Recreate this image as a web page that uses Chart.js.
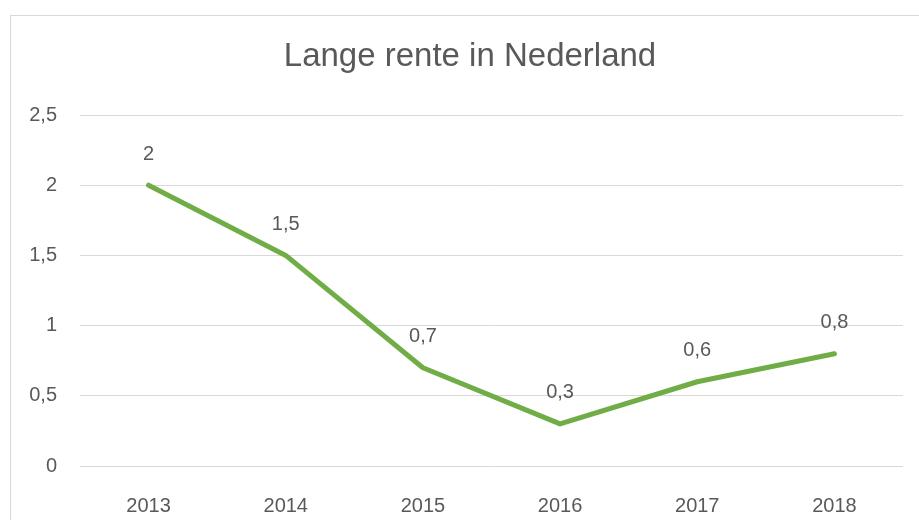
<!DOCTYPE html>
<html>
<head>
<meta charset="utf-8">
<script src="https://cdn.jsdelivr.net/npm/chart.js@4"></script>
<style>
  html, body { margin: 0; padding: 0; background: #fff; overflow: hidden; }
  #wrap { position: absolute; left: 0; top: 0; width: 919px; height: 520px; }
</style>
</head>
<body>
<div id="wrap"><canvas id="grafico"></canvas></div>
<script>
// Datos del gráfico
const titel = 'Lange rente in Nederland';
const jaren = ['2013', '2014', '2015', '2016', '2017', '2018'];
const rente = [2, 1.5, 0.7, 0.3, 0.6, 0.8];
const yTicks = [0, 0.5, 1, 1.5, 2, 2.5];

const grijs = '#595959';
const lijn = '#d9d9d9';
const fontFam = "'Liberation Sans', Arial, sans-serif";

// komma als decimaalteken
function nl(v) {
  return String(v).replace('.', ',');
}

// rand rond de grafiek (rechts en onder afgesneden) + titel
const randPlugin = {
  id: 'rand',
  beforeDraw(chart) {
    const c = chart.ctx;
    c.save();
    c.strokeStyle = lijn;
    c.lineWidth = 1;
    c.strokeRect(10.5, 15.5, 1000, 1000);
    // titel, iets rechts van het midden zoals in Excel
    c.fillStyle = grijs;
    c.font = '33px ' + fontFam;
    c.textAlign = 'center';
    c.textBaseline = 'middle';
    c.fillText(titel, 470, 57);
    c.restore();
  }
};

// waarden boven de punten
const labelPlugin = {
  id: 'labels',
  afterDatasetsDraw(chart) {
    const c = chart.ctx;
    const meta = chart.getDatasetMeta(0);
    c.save();
    c.fillStyle = grijs;
    c.font = '20px ' + fontFam;
    c.textAlign = 'center';
    c.textBaseline = 'middle';
    meta.data.forEach((pt, i) => {
      c.fillText(nl(rente[i]), pt.x, pt.y - 31);
    });
    c.restore();
  }
};

new Chart(document.getElementById('grafico').getContext('2d'), {
  type: 'line',
  data: {
    labels: jaren,
    datasets: [{
      data: rente,
      borderColor: '#70AD47',
      borderWidth: 5,
      pointRadius: 0,
      tension: 0,
      borderCapStyle: 'round',
      borderJoinStyle: 'round'
    }]
  },
  options: {
    responsive: true,
    maintainAspectRatio: false,
    animation: false,
    layout: { padding: { left: 0, right: 16, top: 115, bottom: 0 } },
    plugins: {
      legend: { display: false },
      tooltip: { enabled: false },
      title: { display: false }
    },
    scales: {
      x: {
        offset: true,
        grid: { display: false },
        border: { display: false },
        ticks: { color: grijs, font: { family: fontFam, size: 20 }, padding: 20, maxRotation: 0 },
        afterFit(s) { s.height = 54; }
      },
      y: {
        min: 0,
        max: 2.5,
        afterBuildTicks(s) { s.ticks = yTicks.map(v => ({ value: v })); },
        grid: { color: lijn, lineWidth: 1, drawTicks: false },
        border: { display: false },
        ticks: {
          color: grijs,
          font: { family: fontFam, size: 20 },
          padding: 23,
          callback: v => nl(v)
        },
        afterFit(s) { s.width = 80; }
      }
    }
  },
  plugins: [randPlugin, labelPlugin]
});
</script>
</body>
</html>
